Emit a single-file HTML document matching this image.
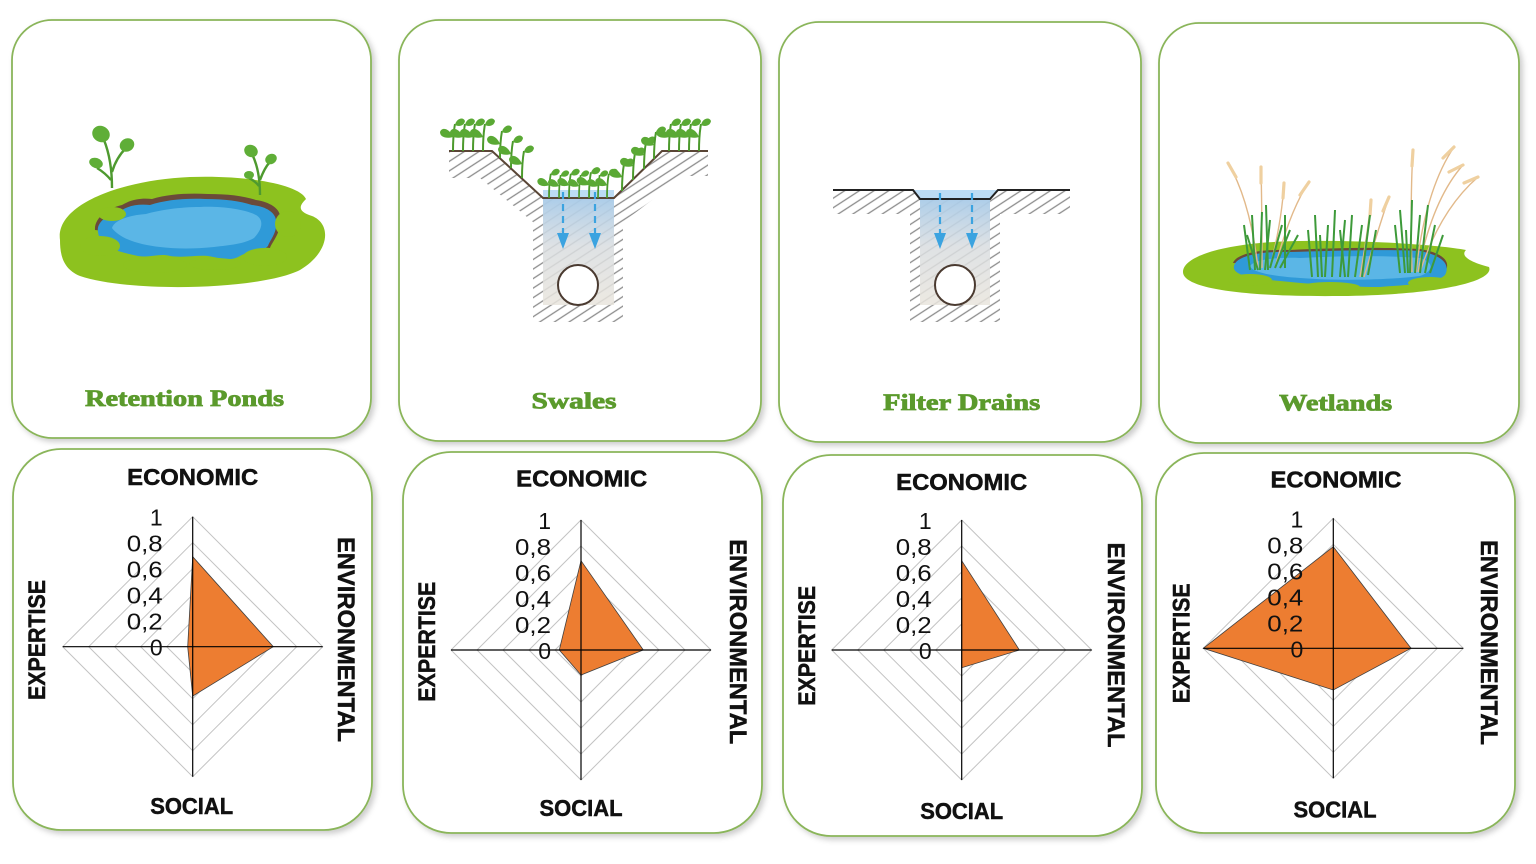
<!DOCTYPE html>
<html>
<head>
<meta charset="utf-8">
<style>
html,body{margin:0;padding:0;background:#fff;}
svg{display:block;}
</style>
</head>
<body>
<svg width="1536" height="864" viewBox="0 0 1536 864" xmlns="http://www.w3.org/2000/svg">
<defs>
  <filter id="sh" x="-10%" y="-10%" width="125%" height="125%">
    <feDropShadow dx="3" dy="3" stdDeviation="3" flood-color="#000" flood-opacity="0.2"/>
  </filter>
  <pattern id="hatch" width="8" height="8" patternUnits="userSpaceOnUse" patternTransform="rotate(-33)">
    <line x1="0" y1="4" x2="8" y2="4" stroke="#8c8c8c" stroke-width="1.3"/>
  </pattern>
  <linearGradient id="tr" x1="0" y1="0" x2="0" y2="1">
    <stop offset="0" stop-color="#a9cbe8" stop-opacity="0.95"/>
    <stop offset="0.45" stop-color="#d9dde0" stop-opacity="0.85"/>
    <stop offset="1" stop-color="#e9e5dd" stop-opacity="0.85"/>
  </linearGradient>
  <g id="sp">
    <path d="M0,0 C0,-8 0,-16 2,-27" fill="none" stroke="#4c9a2c" stroke-width="2"/>
    <path d="M0,-14 C-3,-22 -11,-25 -13,-19 C-13,-14 -7,-12 0,-14Z" fill="#5aa934"/>
    <path d="M2,-26 C3,-32 10,-35 12,-30 C11,-25 6,-24 2,-26Z" fill="#5aa934"/>
  </g>
</defs>

<!-- ===== Top cards ===== -->
<g fill="#fff" stroke="#8ab55a" stroke-width="1.8" filter="url(#sh)">
  <rect x="12" y="20" width="359" height="418" rx="40"/>
  <rect x="399" y="20" width="362" height="421" rx="40"/>
  <rect x="779" y="22" width="362" height="420" rx="40"/>
  <rect x="1159" y="23" width="360" height="420" rx="40"/>
</g>
<!-- ===== Bottom cards ===== -->
<g fill="#fff" stroke="#8ab55a" stroke-width="1.8" filter="url(#sh)">
  <rect x="13" y="449" width="359" height="381" rx="48"/>
  <rect x="403" y="452" width="359" height="381" rx="48"/>
  <rect x="783" y="455" width="359" height="381" rx="48"/>
  <rect x="1156" y="453" width="359" height="380" rx="48"/>
</g>

<!-- ===== Retention pond illustration ===== -->
<g>
  <path d="M60,240 C55,205 120,180 190,177 C250,175 300,185 306,199 C300,205 296,211 312,216 C332,224 330,252 300,270 C260,290 130,293 80,276 C63,269 60,255 60,240 Z" fill="#8dc21f"/>
  <path d="M95,230 C94,218 108,208 122,205 C132,199 142,198 152,199 C168,194 188,193 208,194 C228,194 244,196 256,200 C270,202 281,209 280,218 C282,232 272,242 270,248 Z" fill="#6b4a3a"/>
  <path d="M98,232 C96,222 108,214 122,210 C130,205 140,204 150,205 C165,200 185,198 205,199 C225,199 240,201 252,205 C265,206 275,212 276,220 C278,232 270,240 268,246 C262,252 250,250 240,256 C230,262 220,258 208,256 C195,255 185,258 170,256 C160,253 150,258 138,256 C120,252 100,248 98,232 Z" fill="#2f9ad8"/>
  <path d="M112,228 C114,220 130,215 146,214 C160,210 180,207 200,207 C220,206 244,209 256,215 C266,221 260,232 254,238 C244,244 230,245 214,247 C195,249 176,249 160,247 C140,245 120,239 112,228 Z" fill="#5bb6e6"/>
  <g fill="#8dc21f">
    <ellipse cx="100" cy="246" rx="20" ry="10"/>
    <ellipse cx="155" cy="265" rx="32" ry="8"/>
    <ellipse cx="215" cy="264" rx="26" ry="6"/>
    <ellipse cx="265" cy="257" rx="22" ry="9"/>
    <ellipse cx="288" cy="224" rx="13" ry="13"/>
    <ellipse cx="112" cy="214" rx="14" ry="7"/>
  </g>
  <!-- plants -->
  <g fill="none" stroke="#4e9a2f" stroke-width="2.4">
    <path d="M112,188 C112,170 110,155 104,140"/>
    <path d="M112,172 C115,162 120,154 126,148"/>
    <path d="M111,180 C106,174 102,171 97,168"/>
    <path d="M260,195 C260,180 258,166 252,154"/>
    <path d="M260,180 C263,172 266,166 270,162"/>
    <path d="M259,186 C256,182 253,180 249,178"/>
  </g>
  <g fill="#5fae37">
    <ellipse cx="101" cy="134" rx="9" ry="8" transform="rotate(30 101 134)"/>
    <ellipse cx="127" cy="145" rx="7.5" ry="6.5" transform="rotate(-30 127 145)"/>
    <ellipse cx="96" cy="163" rx="7" ry="5" transform="rotate(20 96 163)"/>
    <ellipse cx="251" cy="151" rx="7" ry="6" transform="rotate(30 251 151)"/>
    <ellipse cx="271" cy="159" rx="6" ry="5" transform="rotate(-30 271 159)"/>
    <ellipse cx="249" cy="175" rx="5" ry="4"/>
  </g>
</g>

<!-- ===== Swales illustration ===== -->
<g>
  <path d="M449,152 L492,152 L543,199 L614,199 L662,152 L708,152 L708,176 L684,176 L623,222 L623,322 L533,322 L533,222 L480,178 L449,178 Z" fill="url(#hatch)"/>
  <rect x="543" y="199" width="71" height="106" fill="url(#tr)"/>
  <rect x="543" y="190" width="71" height="9" fill="#bcdcf4"/>
  <polyline points="449,151 492,151 543,198 614,198 662,151 708,151" fill="none" stroke="#5a4636" stroke-width="2"/>
  <circle cx="578" cy="285" r="20" fill="#fff" stroke="#4a3a30" stroke-width="2"/>
  <g stroke="#3ba3e0" stroke-width="2.2" stroke-dasharray="7,5" fill="none">
    <line x1="563" y1="192" x2="563" y2="236"/>
    <line x1="595" y1="192" x2="595" y2="236"/>
  </g>
  <g fill="#3ba3e0">
    <polygon points="557,233 569,233 563,249"/>
    <polygon points="589,233 601,233 595,249"/>
  </g>
  <g>
    <use href="#sp" transform="translate(453,151)"/>
    <use href="#sp" transform="translate(463,151)"/>
    <use href="#sp" transform="translate(473,151)"/>
    <use href="#sp" transform="translate(483,151)"/>
    <use href="#sp" transform="translate(500,158)"/>
    <use href="#sp" transform="translate(511,168)"/>
    <use href="#sp" transform="translate(522,178)"/>
    <use href="#sp" transform="translate(549,198) scale(0.9)"/>
    <use href="#sp" transform="translate(559,198) scale(0.85)"/>
    <use href="#sp" transform="translate(569,198) scale(0.9)"/>
    <use href="#sp" transform="translate(579,198) scale(0.85)"/>
    <use href="#sp" transform="translate(589,198) scale(0.95)"/>
    <use href="#sp" transform="translate(598,198) scale(0.85)"/>
    <use href="#sp" transform="translate(607,198) scale(0.9)"/>
    <use href="#sp" transform="translate(622,191)"/>
    <use href="#sp" transform="translate(633,180)"/>
    <use href="#sp" transform="translate(644,169)"/>
    <use href="#sp" transform="translate(654,159)"/>
    <use href="#sp" transform="translate(669,151)"/>
    <use href="#sp" transform="translate(679,151)"/>
    <use href="#sp" transform="translate(689,151)"/>
    <use href="#sp" transform="translate(699,151)"/>
  </g>
</g>

<!-- ===== Filter drains illustration ===== -->
<g>
  <path d="M833,191 L913,191 L920,199 L990,199 L998,191 L1070,191 L1070,214 L1000,214 L1000,322 L910,322 L910,214 L833,214 Z" fill="url(#hatch)"/>
  <rect x="920" y="199" width="70" height="106" fill="url(#tr)"/>
  <polygon points="913,190 998,190 990,199 920,199" fill="#bcdcf4"/>
  <polyline points="833,190 913,190 920,199 990,199 998,190 1070,190" fill="none" stroke="#222" stroke-width="2"/>
  <circle cx="955" cy="285" r="20" fill="#fff" stroke="#4a3a30" stroke-width="2"/>
  <g stroke="#3ba3e0" stroke-width="2.2" stroke-dasharray="7,5" fill="none">
    <line x1="940" y1="193" x2="940" y2="236"/>
    <line x1="972" y1="193" x2="972" y2="236"/>
  </g>
  <g fill="#3ba3e0">
    <polygon points="934,233 946,233 940,249"/>
    <polygon points="966,233 978,233 972,249"/>
  </g>
</g>

<!-- ===== Wetlands illustration ===== -->
<g>
  <path d="M1183,272 C1183,255 1230,242 1300,241 C1370,240 1440,245 1466,250 C1460,256 1470,262 1489,267 C1495,281 1440,295 1340,296 C1240,297 1183,288 1183,272 Z" fill="#8dc21f"/>
  <path d="M1233,263 C1236,254 1258,249 1290,250 C1330,248 1380,247 1420,249 C1444,253 1450,262 1446,270 Z" fill="#6b4a3a"/>
  <path d="M1234,266 C1236,256 1260,251 1290,252 C1330,251 1380,249 1420,251 C1445,256 1450,266 1445,275 C1435,285 1400,285 1380,287 C1340,287 1300,283 1270,280 C1245,278 1232,273 1234,266 Z" fill="#2f9ad8"/>
  <path d="M1250,266 C1255,259 1280,257 1300,258 C1340,256 1380,255 1420,258 C1436,263 1432,272 1420,276 C1390,280 1340,281 1300,278 C1270,276 1252,272 1250,266 Z" fill="#5bb6e6"/>
  <g fill="#8dc21f">
    <ellipse cx="1250" cy="280" rx="22" ry="6"/>
    <ellipse cx="1330" cy="287" rx="30" ry="5"/>
    <ellipse cx="1430" cy="283" rx="22" ry="6"/>
  </g>
  <!-- tan stalks -->
  <g fill="none" stroke="#e2b98a" stroke-width="1.4">
    <path d="M1258,268 Q1250,200 1228,163"/>
    <path d="M1262,268 Q1262,210 1261,167"/>
    <path d="M1270,268 Q1282,220 1284,183"/>
    <path d="M1275,268 Q1290,210 1309,182"/>
    <path d="M1360,277 Q1368,230 1371,200"/>
    <path d="M1364,277 Q1378,230 1389,197"/>
    <path d="M1412,272 Q1410,200 1413,150"/>
    <path d="M1416,272 Q1425,190 1454,147"/>
    <path d="M1418,272 Q1432,200 1463,165"/>
    <path d="M1420,272 Q1440,210 1478,177"/>
  </g>
  <g fill="none" stroke="#efd0a0" stroke-width="3.2" stroke-linecap="round">
    <line x1="1236" y1="177" x2="1228" y2="163"/>
    <line x1="1261" y1="183" x2="1261" y2="167"/>
    <line x1="1283" y1="198" x2="1284" y2="183"/>
    <line x1="1300" y1="195" x2="1309" y2="182"/>
    <line x1="1370" y1="215" x2="1371" y2="200"/>
    <line x1="1383" y1="211" x2="1389" y2="197"/>
    <line x1="1412" y1="166" x2="1413" y2="150"/>
    <line x1="1443" y1="158" x2="1454" y2="147"/>
    <line x1="1449" y1="172" x2="1463" y2="165"/>
    <line x1="1464" y1="183" x2="1478" y2="177"/>
  </g>
  <!-- green blades -->
  <g fill="none" stroke="#3d9a3a" stroke-width="2">
    <line x1="1250" y1="270" x2="1244" y2="225"/>
    <line x1="1255" y1="270" x2="1252" y2="215"/>
    <line x1="1260" y1="270" x2="1262" y2="212"/>
    <line x1="1265" y1="270" x2="1270" y2="220"/>
    <line x1="1270" y1="268" x2="1282" y2="225"/>
    <line x1="1275" y1="268" x2="1290" y2="230"/>
    <line x1="1280" y1="268" x2="1298" y2="235"/>
    <line x1="1258" y1="270" x2="1247" y2="235"/>
    <line x1="1268" y1="270" x2="1266" y2="205"/>
    <line x1="1285" y1="268" x2="1285" y2="215"/>
    <line x1="1312" y1="277" x2="1308" y2="230"/>
    <line x1="1318" y1="277" x2="1315" y2="215"/>
    <line x1="1325" y1="277" x2="1328" y2="225"/>
    <line x1="1332" y1="277" x2="1335" y2="210"/>
    <line x1="1340" y1="277" x2="1345" y2="220"/>
    <line x1="1348" y1="277" x2="1352" y2="215"/>
    <line x1="1355" y1="277" x2="1362" y2="225"/>
    <line x1="1362" y1="277" x2="1370" y2="215"/>
    <line x1="1368" y1="275" x2="1376" y2="230"/>
    <line x1="1322" y1="277" x2="1320" y2="235"/>
    <line x1="1345" y1="277" x2="1340" y2="230"/>
    <line x1="1400" y1="273" x2="1395" y2="225"/>
    <line x1="1405" y1="273" x2="1400" y2="210"/>
    <line x1="1410" y1="273" x2="1412" y2="200"/>
    <line x1="1415" y1="273" x2="1420" y2="215"/>
    <line x1="1420" y1="273" x2="1428" y2="205"/>
    <line x1="1425" y1="273" x2="1435" y2="225"/>
    <line x1="1430" y1="273" x2="1443" y2="235"/>
    <line x1="1408" y1="273" x2="1406" y2="230"/>
  </g>
</g>

<!-- ===== Titles ===== -->
<g font-family="'Liberation Serif', serif" font-weight="bold" font-size="23" fill="#5b9a2c" stroke="#5b9a2c" stroke-width="0.8" text-anchor="middle">
  <text x="184.5" y="406" textLength="199" lengthAdjust="spacingAndGlyphs">Retention Ponds</text>
  <text x="574" y="408.5" textLength="85" lengthAdjust="spacingAndGlyphs">Swales</text>
  <text x="961.7" y="410" textLength="157" lengthAdjust="spacingAndGlyphs">Filter Drains</text>
  <text x="1335.7" y="410.5" textLength="113" lengthAdjust="spacingAndGlyphs">Wetlands</text>
</g>

<!-- ===== Radar 1 ===== -->
<g transform="translate(192.7,646.7)">
  <g fill="none" stroke="#c3c3c3" stroke-width="1">
    <polygon points="0,-26 26,0 0,26 -26,0"/>
    <polygon points="0,-52 52,0 0,52 -52,0"/>
    <polygon points="0,-78 78,0 0,78 -78,0"/>
    <polygon points="0,-104 104,0 0,104 -104,0"/>
    <polygon points="0,-130 130,0 0,130 -130,0"/>
  </g>
  <polygon points="0,-90 80.6,0 0,49.4 -5,0" fill="#ed7d31" stroke="#404040" stroke-width="0.8"/>
  <g stroke="#000" stroke-width="1.2">
    <line x1="-130" y1="0" x2="130" y2="0"/>
    <line x1="0" y1="-130" x2="0" y2="130"/>
  </g>
  <g font-family="'Liberation Sans', sans-serif" font-size="23" text-anchor="end" fill="#111">
    <text x="-30" y="-121">1</text>
    <text x="-30" y="-95" textLength="36" lengthAdjust="spacingAndGlyphs">0,8</text>
    <text x="-30" y="-69" textLength="36" lengthAdjust="spacingAndGlyphs">0,6</text>
    <text x="-30" y="-43" textLength="36" lengthAdjust="spacingAndGlyphs">0,4</text>
    <text x="-30" y="-17" textLength="36" lengthAdjust="spacingAndGlyphs">0,2</text>
    <text x="-30" y="9">0</text>
  </g>
</g>
<g font-family="'Liberation Sans', sans-serif" font-weight="bold" fill="#111" stroke="#111" stroke-width="0.5" text-anchor="middle">
  <text x="192.7" y="485" font-size="23" textLength="131" lengthAdjust="spacingAndGlyphs">ECONOMIC</text>
  <text x="191.7" y="814" font-size="23" textLength="83" lengthAdjust="spacingAndGlyphs">SOCIAL</text>
  <g transform="translate(36.7,640) rotate(-90)"><text x="0" y="8.5" font-size="24" textLength="120" lengthAdjust="spacingAndGlyphs">EXPERTISE</text></g>
  <g transform="translate(346.7,639.5) rotate(90)"><text x="0" y="8.5" font-size="24" textLength="205" lengthAdjust="spacingAndGlyphs">ENVIRONMENTAL</text></g>
</g>

<!-- ===== Radar 2 ===== -->
<g transform="translate(581,650)">
  <g fill="none" stroke="#c3c3c3" stroke-width="1">
    <polygon points="0,-26 26,0 0,26 -26,0"/>
    <polygon points="0,-52 52,0 0,52 -52,0"/>
    <polygon points="0,-78 78,0 0,78 -78,0"/>
    <polygon points="0,-104 104,0 0,104 -104,0"/>
    <polygon points="0,-130 130,0 0,130 -130,0"/>
  </g>
  <polygon points="0,-89.3 62.3,0 0,25 -21.7,0" fill="#ed7d31" stroke="#404040" stroke-width="0.8"/>
  <g stroke="#000" stroke-width="1.2">
    <line x1="-130" y1="0" x2="130" y2="0"/>
    <line x1="0" y1="-130" x2="0" y2="130"/>
  </g>
  <g font-family="'Liberation Sans', sans-serif" font-size="23" text-anchor="end" fill="#111">
    <text x="-30" y="-121">1</text>
    <text x="-30" y="-95" textLength="36" lengthAdjust="spacingAndGlyphs">0,8</text>
    <text x="-30" y="-69" textLength="36" lengthAdjust="spacingAndGlyphs">0,6</text>
    <text x="-30" y="-43" textLength="36" lengthAdjust="spacingAndGlyphs">0,4</text>
    <text x="-30" y="-17" textLength="36" lengthAdjust="spacingAndGlyphs">0,2</text>
    <text x="-30" y="9">0</text>
  </g>
</g>
<g font-family="'Liberation Sans', sans-serif" font-weight="bold" fill="#111" stroke="#111" stroke-width="0.5" text-anchor="middle">
  <text x="581.7" y="486.5" font-size="23" textLength="131" lengthAdjust="spacingAndGlyphs">ECONOMIC</text>
  <text x="581" y="816" font-size="23" textLength="83" lengthAdjust="spacingAndGlyphs">SOCIAL</text>
  <g transform="translate(426.7,641.7) rotate(-90)"><text x="0" y="8.5" font-size="24" textLength="120" lengthAdjust="spacingAndGlyphs">EXPERTISE</text></g>
  <g transform="translate(738.3,641.7) rotate(90)"><text x="0" y="8.5" font-size="24" textLength="205" lengthAdjust="spacingAndGlyphs">ENVIRONMENTAL</text></g>
</g>

<!-- ===== Radar 3 ===== -->
<g transform="translate(961.7,650)">
  <g fill="none" stroke="#c3c3c3" stroke-width="1">
    <polygon points="0,-26 26,0 0,26 -26,0"/>
    <polygon points="0,-52 52,0 0,52 -52,0"/>
    <polygon points="0,-78 78,0 0,78 -78,0"/>
    <polygon points="0,-104 104,0 0,104 -104,0"/>
    <polygon points="0,-130 130,0 0,130 -130,0"/>
  </g>
  <polygon points="0,-89.3 57.7,0 0,17.7 0,0" fill="#ed7d31" stroke="#404040" stroke-width="0.8"/>
  <g stroke="#000" stroke-width="1.2">
    <line x1="-130" y1="0" x2="130" y2="0"/>
    <line x1="0" y1="-130" x2="0" y2="130"/>
  </g>
  <g font-family="'Liberation Sans', sans-serif" font-size="23" text-anchor="end" fill="#111">
    <text x="-30" y="-121">1</text>
    <text x="-30" y="-95" textLength="36" lengthAdjust="spacingAndGlyphs">0,8</text>
    <text x="-30" y="-69" textLength="36" lengthAdjust="spacingAndGlyphs">0,6</text>
    <text x="-30" y="-43" textLength="36" lengthAdjust="spacingAndGlyphs">0,4</text>
    <text x="-30" y="-17" textLength="36" lengthAdjust="spacingAndGlyphs">0,2</text>
    <text x="-30" y="9">0</text>
  </g>
</g>
<g font-family="'Liberation Sans', sans-serif" font-weight="bold" fill="#111" stroke="#111" stroke-width="0.5" text-anchor="middle">
  <text x="961.7" y="490" font-size="23" textLength="131" lengthAdjust="spacingAndGlyphs">ECONOMIC</text>
  <text x="961.7" y="819" font-size="23" textLength="83" lengthAdjust="spacingAndGlyphs">SOCIAL</text>
  <g transform="translate(806.7,645.8) rotate(-90)"><text x="0" y="8.5" font-size="24" textLength="120" lengthAdjust="spacingAndGlyphs">EXPERTISE</text></g>
  <g transform="translate(1116.7,645) rotate(90)"><text x="0" y="8.5" font-size="24" textLength="205" lengthAdjust="spacingAndGlyphs">ENVIRONMENTAL</text></g>
</g>

<!-- ===== Radar 4 ===== -->
<g transform="translate(1333.3,648.3)">
  <g fill="none" stroke="#c3c3c3" stroke-width="1">
    <polygon points="0,-26 26,0 0,26 -26,0"/>
    <polygon points="0,-52 52,0 0,52 -52,0"/>
    <polygon points="0,-78 78,0 0,78 -78,0"/>
    <polygon points="0,-104 104,0 0,104 -104,0"/>
    <polygon points="0,-130 130,0 0,130 -130,0"/>
  </g>
  <polygon points="0,-101.6 77.7,0 0,41.7 -130,0" fill="#ed7d31" stroke="#404040" stroke-width="0.8"/>
  <g stroke="#000" stroke-width="1.2">
    <line x1="-130" y1="0" x2="130" y2="0"/>
    <line x1="0" y1="-130" x2="0" y2="130"/>
  </g>
  <g font-family="'Liberation Sans', sans-serif" font-size="23" text-anchor="end" fill="#111">
    <text x="-30" y="-121">1</text>
    <text x="-30" y="-95" textLength="36" lengthAdjust="spacingAndGlyphs">0,8</text>
    <text x="-30" y="-69" textLength="36" lengthAdjust="spacingAndGlyphs">0,6</text>
    <text x="-30" y="-43" textLength="36" lengthAdjust="spacingAndGlyphs">0,4</text>
    <text x="-30" y="-17" textLength="36" lengthAdjust="spacingAndGlyphs">0,2</text>
    <text x="-30" y="9">0</text>
  </g>
</g>
<g font-family="'Liberation Sans', sans-serif" font-weight="bold" fill="#111" stroke="#111" stroke-width="0.5" text-anchor="middle">
  <text x="1336" y="487.5" font-size="23" textLength="131" lengthAdjust="spacingAndGlyphs">ECONOMIC</text>
  <text x="1335" y="817.5" font-size="23" textLength="83" lengthAdjust="spacingAndGlyphs">SOCIAL</text>
  <g transform="translate(1181,643.3) rotate(-90)"><text x="0" y="8.5" font-size="24" textLength="120" lengthAdjust="spacingAndGlyphs">EXPERTISE</text></g>
  <g transform="translate(1489.3,642.5) rotate(90)"><text x="0" y="8.5" font-size="24" textLength="205" lengthAdjust="spacingAndGlyphs">ENVIRONMENTAL</text></g>
</g>
</svg>
</body>
</html>
